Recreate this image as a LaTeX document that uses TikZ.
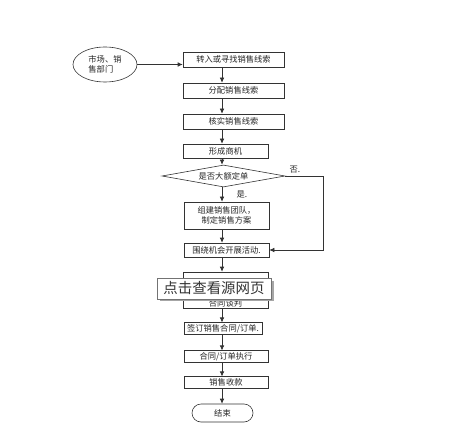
\documentclass[tikz,border=0pt]{standalone}
\usepackage{fontspec}
\newfontfamily\cjk{Noto Sans CJK SC}
\usetikzlibrary{arrows.meta,shapes.geometric}
\begin{document}
\begin{tikzpicture}[x=1bp,y=-1bp,
  font=\cjk\fontsize{8.3}{10}\selectfont,
  box/.style={draw=black!80, line width=0.6pt, fill=white, inner sep=0pt, align=center, text=black!85},
  arr/.style={draw=black!80, line width=0.6pt, -{Latex[length=5bp,width=4.5bp]}},
  lbl/.style={inner sep=0pt, text=black!85}]
\useasboundingbox (0,0) rectangle (469,437);
\fill[white] (0,0) rectangle (469,437);
\coordinate (col) at (222,0);

\node[box, ellipse, minimum width=64bp, minimum height=35bp, align=left] (e) at (105,64.5) {市场、销\\售部门};
\node[box, minimum width=101bp, minimum height=15bp] (b1) at (233.5,59.5) {转入或寻找销售线索};
\node[box, minimum width=101bp, minimum height=15bp] (b2) at (233.5,90.5) {分配销售线索};
\node[box, minimum width=101bp, minimum height=15bp] (b3) at (233.5,121.5) {核实销售线索};
\node[box, minimum width=85bp, minimum height=14bp] (b4) at (225.5,151) {形成商机};
\node[box, diamond, aspect=5.6, minimum width=123bp, minimum height=22bp] (d) at (223.5,176) {是否大额定单};
\node[box, minimum width=85bp, minimum height=27bp] (b5) at (226.5,215.5) {组建销售团队，\\制定销售方案};
\node[box, minimum width=85bp, minimum height=14bp] (b6) at (226.5,250) {围绕机会开展活动.};
\node[box, minimum width=85bp, minimum height=36bp] (b7) at (225.5,290) {};
\node[lbl] (b7t) at (225.5,303.5) {合同谈判};
\node[box, minimum width=78bp, minimum height=11.5bp] (b8) at (223,328.5) {签订销售合同/订单.};
\node[box, minimum width=84bp, minimum height=11.5bp] (b9) at (226,356.5) {合同/订单执行};
\node[box, minimum width=84bp, minimum height=11.5bp] (b10) at (226,382.5) {销售收款};
\node[box, rounded corners=9bp, minimum width=61bp, minimum height=18bp] (end) at (222.5,413) {结束};

\node[lbl] (yes) at (242,195) {是.};
\node[lbl] (no) at (295,170) {否.};

\draw[arr] (e.east) -- (e.east -| b1.west);
\draw[arr] (b1.south -| col) -- (b2.north -| col);
\draw[arr] (b2.south -| col) -- (b3.north -| col);
\draw[arr] (b3.south -| col) -- (b4.north -| col);
\draw[arr] (b4.south -| col) -- (d.north -| col);
\draw[arr] (d.south -| col) -- (b5.north -| col);
\draw[arr] (d.east) -- ++(38,0) |- (b6.east);
\draw[arr] (b5.south -| col) -- (b6.north -| col);
\draw[arr] (b6.south -| col) -- (b7.north -| col);
\draw[arr] (b7.south -| col) -- (b8.north -| col);
\draw[arr] (b8.south -| col) -- (b9.north -| col);
\draw[arr] (b9.south -| col) -- (b10.north -| col);
\draw[arr] (b10.south -| col) -- (end.north -| col);

% overlay label
\fill[black!35] (160,281) rectangle (274,301);
\node[draw=black!55, fill=white, line width=0.6pt, minimum width=114bp, minimum height=21bp, inner sep=0pt,
  font=\cjk\fontsize{14.5}{16}\selectfont, text=black!80] (ov) at (214,288.5) {点击查看源网页};
\end{tikzpicture}
\end{document}
